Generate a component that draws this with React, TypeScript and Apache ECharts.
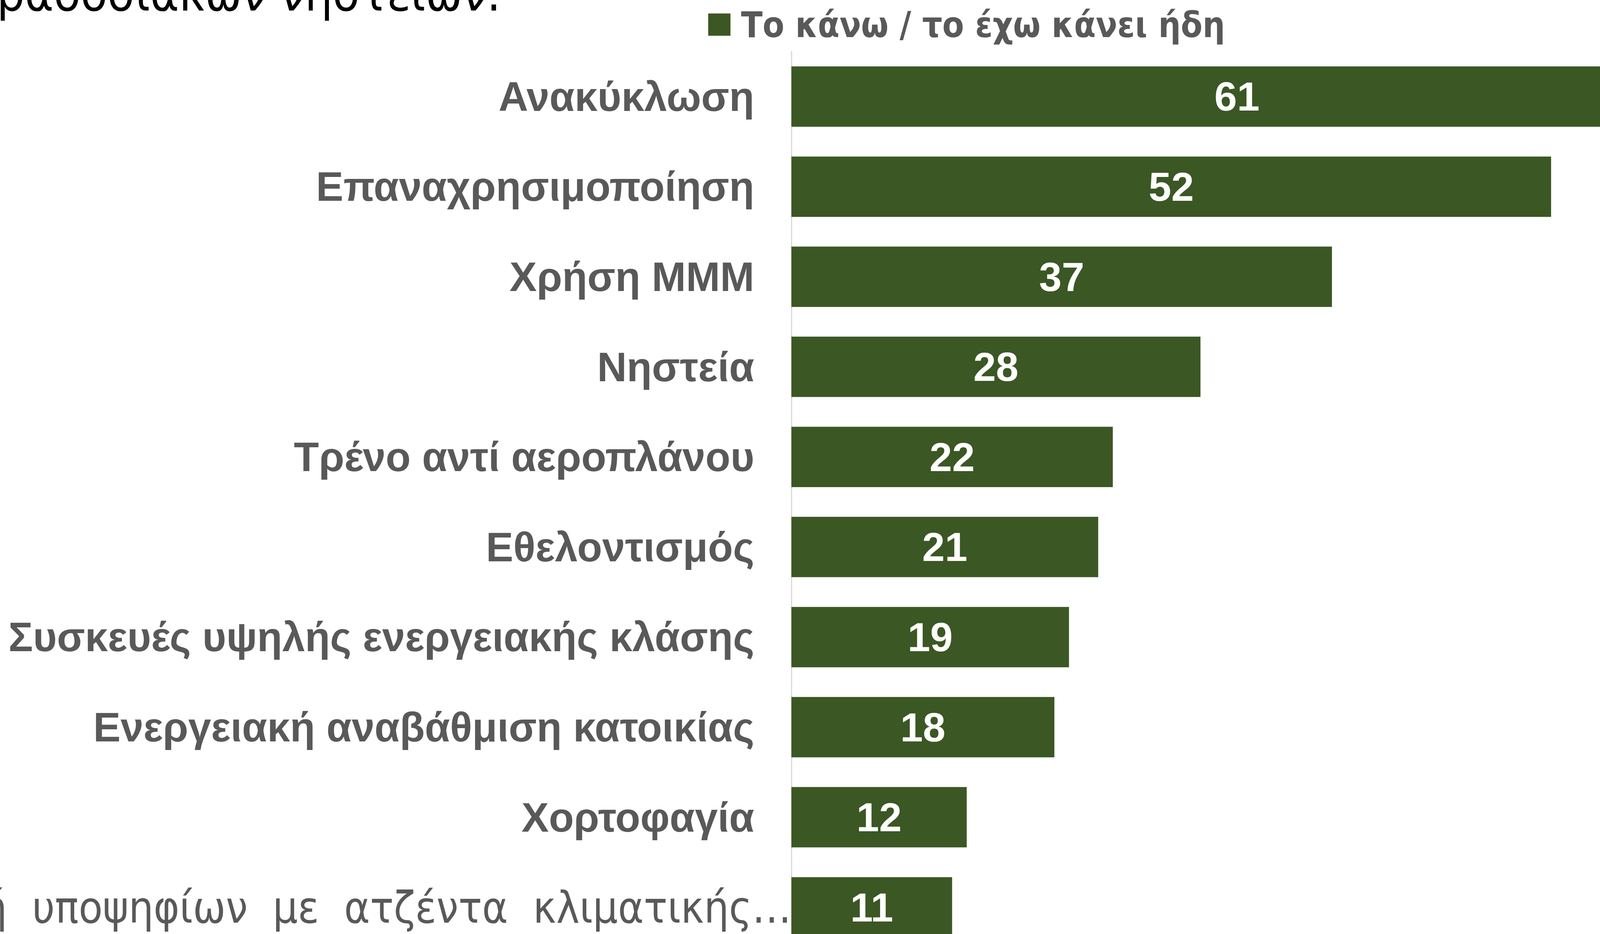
import React, { useEffect, useRef } from "react";
import * as echarts from "echarts";

const categories = [
  "Ανακύκλωση",
  "Επαναχρησιμοποίηση",
  "Χρήση ΜΜΜ",
  "Νηστεία",
  "Τρένο αντί αεροπλάνου",
  "Εθελοντισμός",
  "Συσκευές υψηλής ενεργειακής κλάσης",
  "Ενεργειακή αναβάθμιση κατοικίας",
  "Χορτοφαγία",
  "Επιλογή  υποψηφίων  με  ατζέντα  κλιματικής…",
];
const values = [61, 52, 37, 28, 22, 21, 19, 18, 12, 11];
const seriesName = "Το κάνω / το έχω κάνει ήδη";
const titleText = "παραδοσιακών νηστειών.";
const pageNumber = "36";

const W = 4276;
const H = 2391;
const GREEN = "#3b5723";
const GREY = "#595959";

export default function App() {
  const ref = useRef<HTMLDivElement>(null);
  useEffect(() => {
    document.body.style.margin = "0";
    const chart = echarts.init(ref.current!, null, { renderer: "svg" });
    const unit = 37.4;
    const xMax = 70;
    chart.setOption({
      animation: false,
      backgroundColor: "#ffffff",
      legend: {
        data: [seriesName],
        left: 1813,
        top: 18,
        padding: 0,
        itemWidth: 57,
        itemHeight: 57,
        icon: "rect",
        textStyle: {
          fontFamily: "'DejaVu Sans Condensed', 'DejaVu Sans'",
          fontWeight: "bold",
          fontSize: 90,
          color: GREY,
          padding: [0, 0, 0, 22],
        },
      },
      grid: {
        left: 2026,
        top: 132,
        width: xMax * unit,
        height: 2306,
        containLabel: false,
        outerBoundsMode: "none",
      },
      xAxis: {
        type: "value",
        min: 0,
        max: xMax,
        show: false,
        splitLine: { show: false },
      },
      yAxis: {
        type: "category",
        data: categories,
        inverse: true,
        axisTick: { show: false },
        axisLine: { show: true, lineStyle: { color: "#d9d9d9", width: 3 } },
        axisLabel: {
          margin: 0,
          hideOverlap: false,
          formatter: (v: string, i: number) =>
            i === categories.length - 1 ? `{t|${v}}` : `{n|${v}}`,
          rich: {
            n: {
              fontFamily: "'Liberation Sans', Arial, sans-serif",
              fontWeight: "bold",
              fontSize: 105,
              color: GREY,
              padding: [0, 95, 0, 0],
            },
            t: {
              fontFamily: "'DejaVu Sans Condensed', 'DejaVu Sans', sans-serif",
              fontWeight: "normal",
              fontSize: 112,
              color: GREY,
              padding: [0, 0, 0, 0],
            },
          },
        },
      },
      series: [
        {
          name: seriesName,
          type: "bar",
          data: values,
          barCategoryGap: "33%",
          itemStyle: { color: GREEN },
          label: {
            show: true,
            position: "inside",
            color: "#ffffff",
            fontFamily: "'Liberation Sans', Arial, sans-serif",
            fontWeight: "bold",
            fontSize: 104,
          },
        },
      ],
      graphic: [
        {
          type: "text",
          x: 1282,
          y: 46,
          style: {
            text: titleText,
            align: "right",
            verticalAlign: "bottom",
            fontFamily: "'DejaVu Sans Condensed', 'DejaVu Sans'",
            fontSize: 125,
            fill: "#000000",
          },
        },
        {
          type: "text",
          x: 4145,
          y: 2345,
          style: {
            text: pageNumber,
            align: "center",
            verticalAlign: "middle",
            fontFamily: "'Open Sans', sans-serif",
            fontSize: 32,
            fill: "#8c8c8c",
          },
        },
      ],
    });
    return () => chart.dispose();
  }, []);
  return <div ref={ref} style={{ width: W, height: H, overflow: "hidden" }} />;
}
